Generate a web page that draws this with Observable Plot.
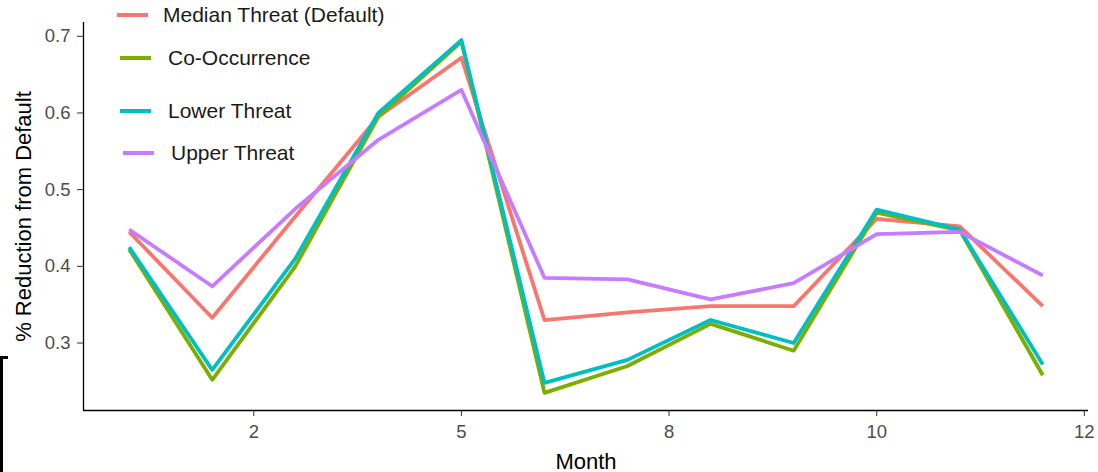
<!DOCTYPE html>
<html>
<head>
<meta charset="utf-8">
<script src="https://cdn.jsdelivr.net/npm/d3@7"></script>
<script src="https://cdn.jsdelivr.net/npm/@observablehq/plot@0.6"></script>
<style>
  html, body { margin: 0; padding: 0; background: #fff; }
  #wrap { position: relative; width: 1098px; height: 472px; overflow: hidden; font-family: "Liberation Sans", Arial, sans-serif; }
  #legend { position: absolute; left: 0; top: 0; }
  .li { position: absolute; display: flex; align-items: center; font-size: 21px; color: #1a1a1a; white-space: nowrap; }
  .sw { display: inline-block; width: 31px; height: 4px; }
  #bracket { position: absolute; left: 0; top: 356px; width: 8px; height: 120px; border-left: 3px solid #000; border-top: 3px solid #000; box-sizing: border-box; }
</style>
</head>
<body>
<div id="wrap"><div id="bracket"></div></div>
<script>
const months = [1, 2, 3, 4, 5, 6, 7, 8, 9, 10, 11, 12];
const seriesNames = ["Median Threat (Default)", "Co-Occurrence", "Lower Threat", "Upper Threat"];
const seriesColors = ["#F8766D", "#7CAE00", "#00BFC4", "#C77CFF"];
const medianThreat = [0.445, 0.333, 0.465, 0.595, 0.672, 0.330, 0.340, 0.348, 0.348, 0.462, 0.452, 0.348];
const coOccurrence = [0.422, 0.252, 0.400, 0.595, 0.693, 0.235, 0.270, 0.325, 0.290, 0.470, 0.447, 0.258];
const lowerThreat  = [0.425, 0.265, 0.410, 0.600, 0.695, 0.248, 0.278, 0.330, 0.300, 0.474, 0.448, 0.272];
const upperThreat  = [0.448, 0.374, 0.475, 0.565, 0.630, 0.385, 0.383, 0.357, 0.378, 0.442, 0.445, 0.388];
const xTicks = [2.5, 5, 7.5, 10, 12.5];
const xTickLabels = ["2", "5", "8", "10", "12"];
const yTicks = [0.3, 0.4, 0.5, 0.6, 0.7];

const seriesValues = [medianThreat, coOccurrence, lowerThreat, upperThreat];
const data = [];
seriesNames.forEach((name, s) => {
  months.forEach((m, i) => data.push({month: m, value: seriesValues[s][i], series: name}));
});
const xLabelMap = new Map(xTicks.map((t, i) => [t, xTickLabels[i]]));

const chart = Plot.plot({
  width: 1098,
  height: 472,
  marginLeft: 83,
  marginRight: 10,
  marginTop: 22,
  marginBottom: 62,
  style: { fontFamily: "Liberation Sans, Arial, sans-serif", background: "#fff" },
  x: { domain: [0.45, 12.55] },
  y: { domain: [0.212, 0.718] },
  color: { domain: seriesNames, range: seriesColors },
  marks: [
    Plot.axisX({ ticks: xTicks, tickFormat: d => xLabelMap.get(d), tickSize: 6, tickPadding: 8,
      fontSize: 18.5, fill: "#4D4D4D", stroke: "#333", label: "Month", labelAnchor: "center",
      labelOffset: 58, labelArrow: "none" }),
    Plot.axisY({ ticks: yTicks, tickFormat: d3.format(".1f"), tickSize: 6, tickPadding: 7,
      fontSize: 18.5, fill: "#4D4D4D", stroke: "#333", label: "% Reduction from Default",
      labelAnchor: "center", labelOffset: 68, labelArrow: "none" }),
    Plot.ruleY([0.212], { stroke: "#000", strokeWidth: 1.3 }),
    Plot.ruleX([0.45], { stroke: "#000", strokeWidth: 1.3 }),
    Plot.lineY(data, { x: "month", y: "value", stroke: "series", strokeWidth: 3.8,
      strokeLinejoin: "round", strokeLinecap: "butt" })
  ]
});
// style axis labels larger and black
chart.querySelectorAll("[aria-label='x-axis label'] text, [aria-label='y-axis label'] text").forEach(t => {
  t.setAttribute("font-size", "22"); t.setAttribute("fill", "#000");
});
chart.querySelectorAll("[aria-label='x-axis label'], [aria-label='y-axis label']").forEach(g => {
  g.setAttribute("font-size", "22"); g.setAttribute("fill", "#000");
});
const wrap = document.getElementById("wrap");
wrap.insertBefore(chart, wrap.firstChild);

// legend (inside the panel, top-left)
const legendPos = [[117, 163, 15], [120, 168, 58], [120, 168, 111], [123, 171, 153]];
const legend = document.createElement("div");
legend.id = "legend";
seriesNames.forEach((name, i) => {
  const [sx, tx, cy] = legendPos[i];
  const sw = document.createElement("div");
  sw.className = "li";
  sw.style.left = sx + "px"; sw.style.top = (cy - 2) + "px";
  sw.innerHTML = `<span class="sw" style="background:${seriesColors[i]}"></span>`;
  const tl = document.createElement("div");
  tl.className = "li";
  tl.style.left = tx + "px"; tl.style.top = (cy - 12) + "px"; tl.style.height = "24px";
  tl.textContent = name;
  legend.appendChild(sw); legend.appendChild(tl);
});
wrap.appendChild(legend);
</script>
</body>
</html>
